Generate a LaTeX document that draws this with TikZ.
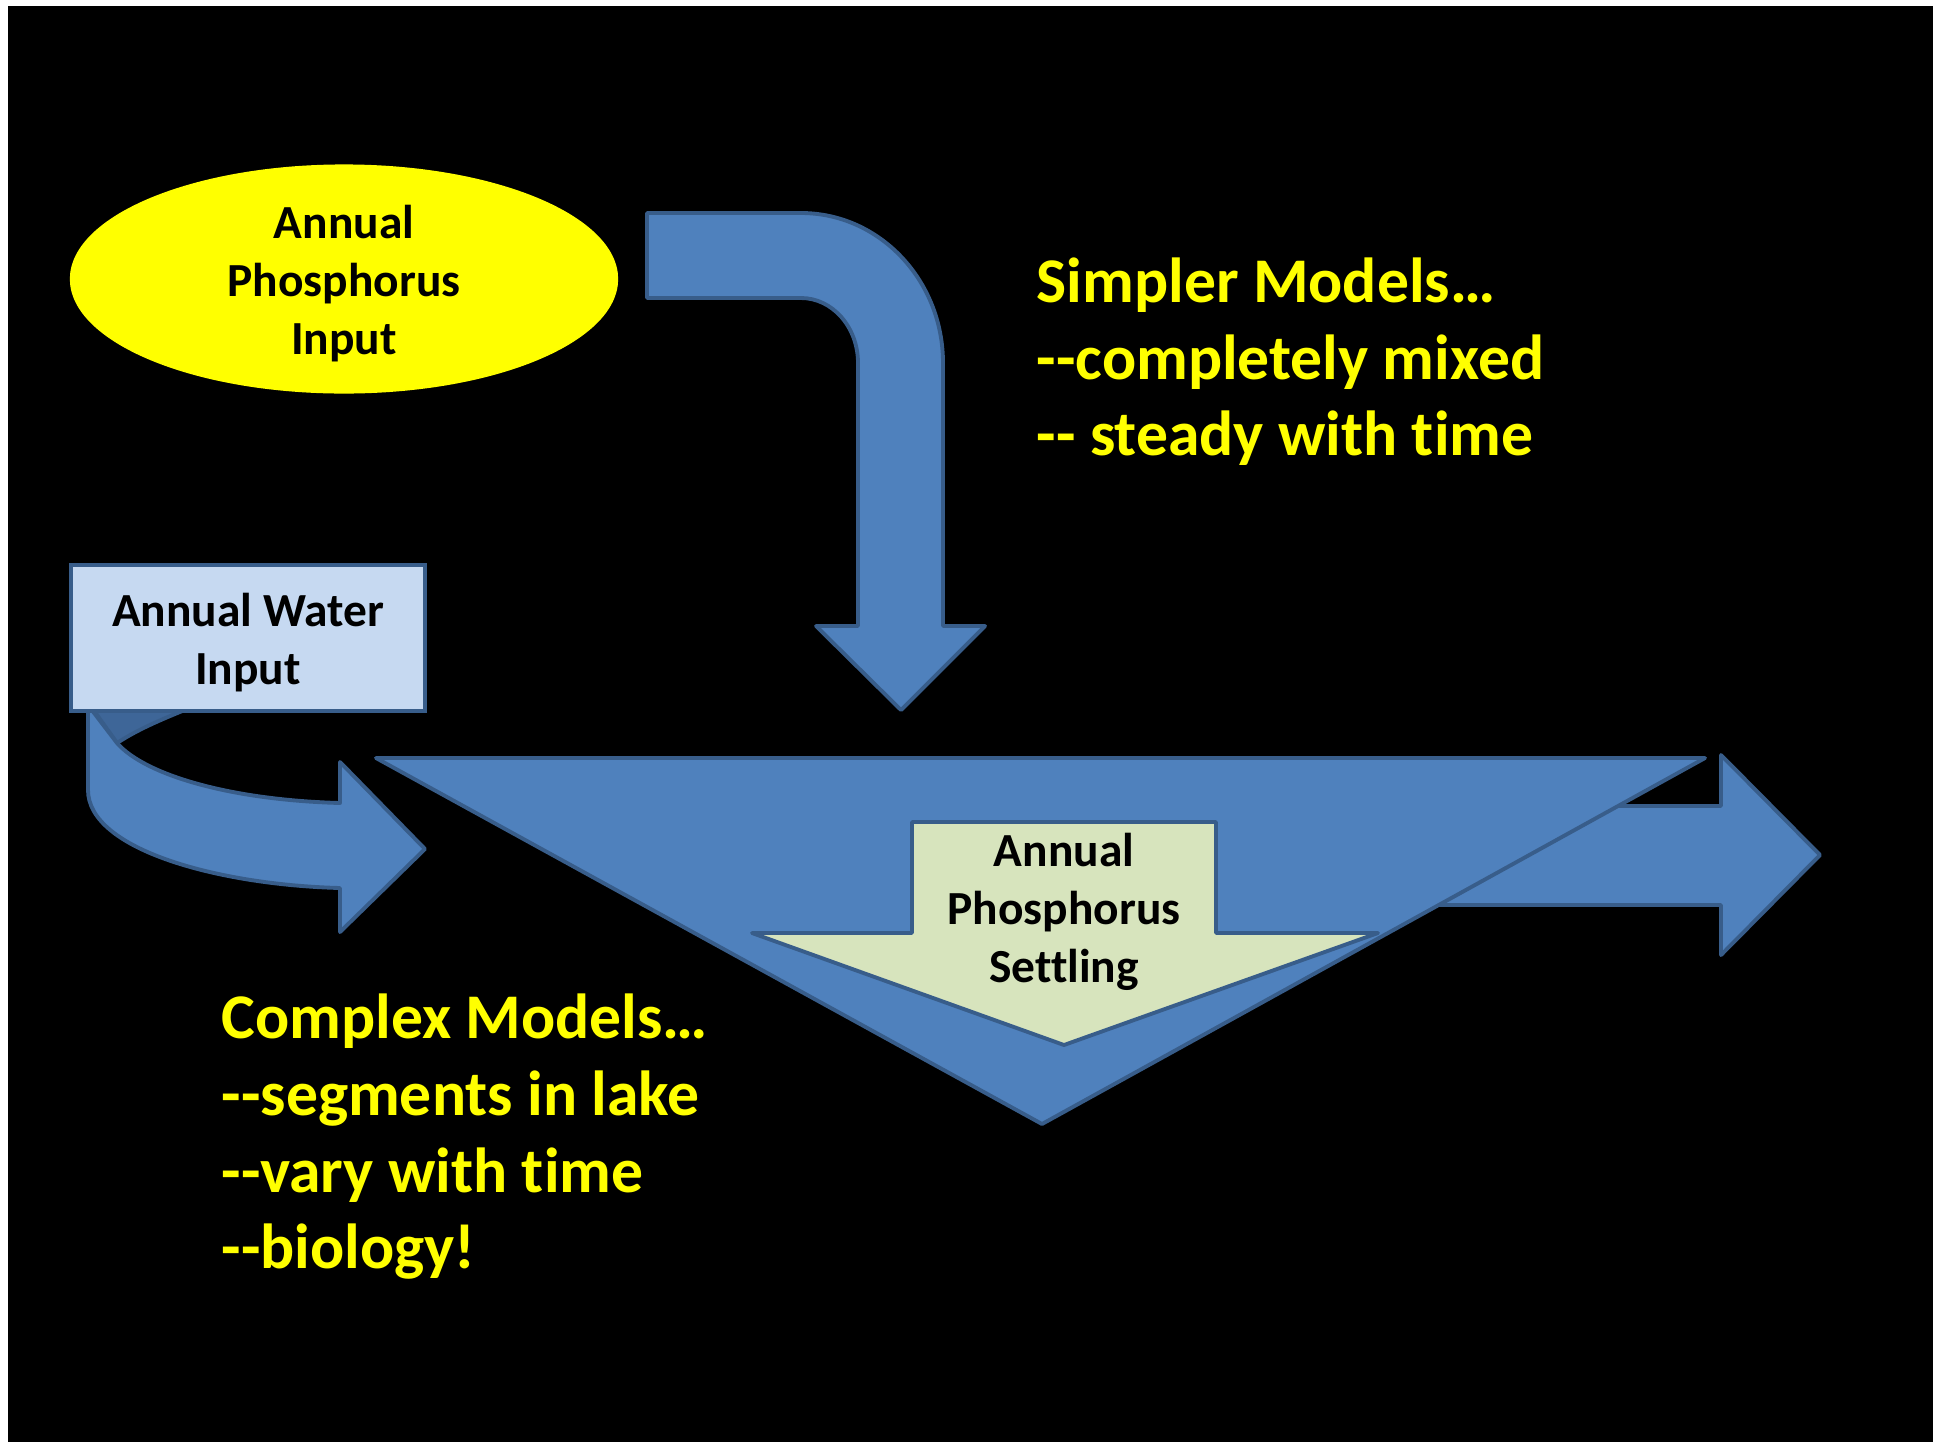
\documentclass[tikz,border=0pt]{standalone}
\usepackage{fontspec}
\newfontfamily\calib{Carlito}[Ligatures={NoCommon,NoContextual},Contextuals=NoAlternate]
\usepackage{tikz}
\usetikzlibrary{shapes.geometric}
\definecolor{lakeblue}{RGB}{79,129,189}
\definecolor{lakeedge}{RGB}{56,93,138}
\definecolor{lakeback}{RGB}{62,102,152}
\definecolor{waterbox}{RGB}{198,217,241}
\definecolor{settlegreen}{RGB}{215,228,189}
\definecolor{hiyellow}{RGB}{255,255,0}

\begin{document}
\begin{tikzpicture}[x=0.01cm,y=-0.01cm,
  blockarrow/.style={fill=lakeblue,draw=lakeedge,line width=1.1pt,line join=round},
  boxlab/.style={font=\calib\bfseries\fontsize{13.5}{16.5}\selectfont,align=center,text=black},
  notelab/.style={font=\calib\bfseries\fontsize{18.1}{21.8}\selectfont,align=left,text=hiyellow,anchor=west,inner sep=0pt}]
  \useasboundingbox (0,0) rectangle (1933,1442);
  \fill[white] (0,0) rectangle (1933,1442);
  \fill[black] (8,6) rectangle (1933,1442);
  % phosphorus input and the bent arrow down to the lake
  \node (pin) [ellipse,fill=hiyellow,minimum width=5.48cm,minimum height=2.29cm,inner sep=0pt] at (344,279) {};
  \node (pinlab) [boxlab] at (344,284) {Annual\\Phosphorus\\Input};
  \draw[blockarrow] (647,213) -- (801,213) arc[start angle=-90,end angle=0,x radius=142,y radius=150]
    -- (943,626) -- (985,626) -- (901,710) -- (816,626) -- (858,626) -- (858,363)
    arc[start angle=0,end angle=-90,x radius=57,y radius=65] -- (647,298) -- cycle;
  % water input with its curved arrow
  \fill[lakeback,draw=lakeedge,line width=1.1pt,line join=round] (90,705) -- (117,743) .. controls (140,728) and (165,718) .. (197,705) -- cycle;
  \draw[blockarrow] (88,705) -- (88,790) .. controls (88,850) and (220,885) .. (340,888) -- (340,932) -- (425,849)
    -- (340,762) -- (340,803) .. controls (230,800) and (145,775) .. (117,743) -- cycle;
  \node (win) [rectangle,fill=waterbox,draw=lakeedge,line width=1.1pt,minimum width=3.54cm,minimum height=1.46cm] at (248,638) {};
  \node (winlab) [boxlab] at (248,643) {Annual Water\\Input};
  % outflow behind the lake
  \draw[blockarrow] (1400,806) -- (1721,806) -- (1721,755) -- (1820,855) -- (1721,955) -- (1721,905) -- (1400,905) -- cycle;
  % lake
  \draw[blockarrow] (376,758) -- (1705,758) -- (1042,1124) -- cycle;
  \draw[blockarrow,fill=settlegreen] (912,822) -- (1216,822) -- (1216,933) -- (1378,933) -- (1064,1045) -- (752,933) -- (912,933) -- cycle;
  \node (pset) [boxlab] at (1064,912) {Annual\\Phosphorus\\Settling};
  % notes
  \node (simple) [notelab] at (1036,362) {Simpler Models…\\--completely mixed\\-- steady with time};
  \node (complex) [notelab] at (221,1137) {Complex Models…\\--segments in lake\\--vary with time\\--biology!};
\end{tikzpicture}
\end{document}
